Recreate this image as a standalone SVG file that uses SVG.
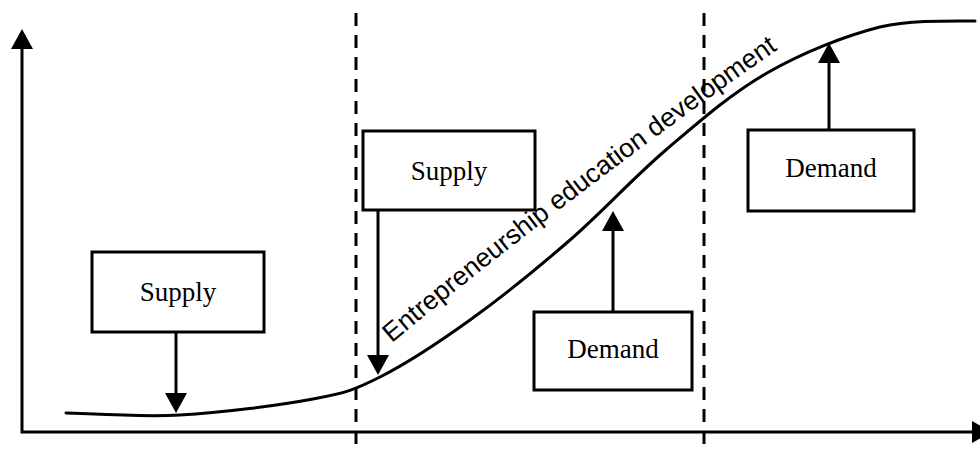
<svg xmlns="http://www.w3.org/2000/svg" width="980" height="451" viewBox="0 0 980 451">
  <style>
    .box { fill: #fff; stroke: #000; stroke-width: 3; }
    .lbl { font-family: "Liberation Serif", "Times New Roman", serif; font-size: 27px; fill: #000; text-anchor: middle; }
    .arrow { fill: none; stroke: #000; stroke-width: 3; marker-end: url(#head); }
    .axis { fill: none; stroke: #000; stroke-width: 3; stroke-linejoin: miter; }
    .divider { stroke: #000; stroke-width: 3; stroke-dasharray: 13 9; }
    .curve { fill: none; stroke: #000; stroke-width: 3; stroke-linecap: round; }
    .curvelbl { font-family: "Liberation Sans", Arial, sans-serif; font-size: 26.5px; fill: #000; }
  </style>
  <defs>
    <marker id="head" markerUnits="userSpaceOnUse" markerWidth="20" markerHeight="22" refX="0" refY="11" orient="auto-start-reverse" viewBox="0 0 20 22">
      <path d="M0,0 L20,11 L0,22 z" fill="#000"/>
    </marker>
    <path id="labelPath" d="M392,343 C470,277 645,141 780,48"/>
  </defs>

  <rect width="980" height="451" fill="#fff"/>

  <!-- axes -->
  <g id="axes">
    <path class="axis" d="M22,49 L22,432 L972,432" marker-start="url(#head)" marker-end="url(#head)"/>
  </g>

  <!-- phase dividers -->
  <g id="dividers">
    <line class="divider" x1="356" y1="13" x2="356" y2="451"/>
    <line class="divider" x1="704" y1="13" x2="704" y2="451"/>
  </g>

  <!-- development curve with its label -->
  <g id="development-curve">
    <path class="curve" d="M66,413 C85,413.3 138.8,417.3 180,415 C221.2,412.7 279.7,405.3 313,399 C346.3,392.7 353.8,390.2 380,377 C406.2,363.8 438.3,342.8 470,320 C501.7,297.2 537.2,268.5 570,240 C602.8,211.5 634.2,176.8 667,149 C699.8,121.2 731.5,93.3 767,73 C802.5,52.7 845.3,35.7 880,27 C912,20 950,21 975,21"/>
    <text class="curvelbl"><textPath href="#labelPath">Entrepreneurship education development</textPath></text>
  </g>

  <!-- nodes -->
  <g id="supply-1">
    <rect class="box" x="92" y="252" width="172" height="80"/>
    <text class="lbl" x="178" y="301">Supply</text>
  </g>
  <g id="supply-2">
    <rect class="box" x="363" y="131" width="172" height="79"/>
    <text class="lbl" x="449" y="180">Supply</text>
  </g>
  <g id="demand-1">
    <rect class="box" x="534" y="312" width="158" height="78"/>
    <text class="lbl" x="613" y="358">Demand</text>
  </g>
  <g id="demand-2">
    <rect class="box" x="748" y="130" width="166" height="81"/>
    <text class="lbl" x="831" y="177">Demand</text>
  </g>

  <!-- connectors -->
  <g id="connectors">
    <line class="arrow" x1="176" y1="332" x2="176" y2="393"/>
    <line class="arrow" x1="378" y1="210" x2="378" y2="355"/>
    <line class="arrow" x1="613" y1="312" x2="613" y2="231"/>
    <line class="arrow" x1="829" y1="130" x2="829" y2="63"/>
  </g>
</svg>
